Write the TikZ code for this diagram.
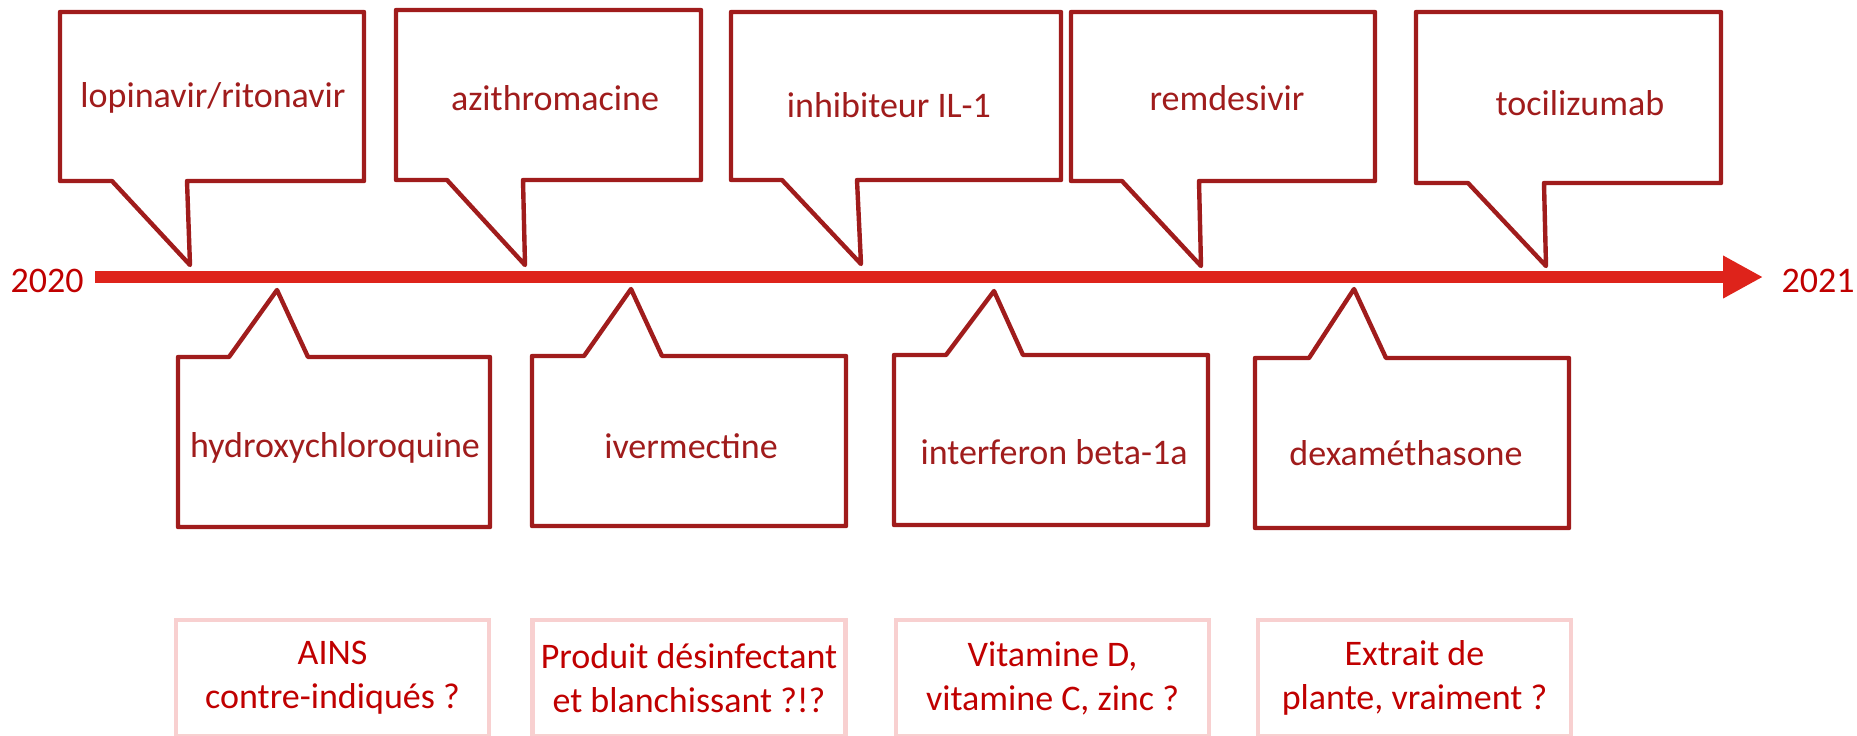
\documentclass[tikz,border=0pt]{standalone}
\usepackage{fontspec}
\setmainfont{Carlito}
\usetikzlibrary{arrows.meta}

\definecolor{bubblered}{RGB}{160,28,28}
\definecolor{axisred}{RGB}{222,35,27}
\definecolor{yearred}{RGB}{192,0,0}
\definecolor{pinkline}{RGB}{248,208,208}

\tikzset{
  bubble/.style={draw=bubblered, line width=2.2pt, line join=round, fill=white},
  drug/.style={text=bubblered, font=\fontsize{18}{22}\selectfont},
  doubt/.style={draw=pinkline, line width=2.2pt, text=yearred, align=center,
    minimum width=156.5pt, minimum height=58pt, inner sep=0pt,
    font=\fontsize{18}{22}\selectfont},
  year/.style={text=yearred, font=\fontsize{18}{22}\selectfont},
}

\begin{document}
\begin{tikzpicture}[x=0.5pt, y=-0.5pt]
    \useasboundingbox (0,0) rectangle (1857,735);
    % time axis
    \node[year] (y2020) at (47,281) {2020};
    \node[year] (y2021) at (1818,281) {2021};
    \coordinate (tstart) at (95,277);
    \coordinate (tend) at (1763,277);
    \draw[axisred, line width=6.3pt, -{Triangle[length=20pt, width=20pt]}] (tstart) -- (tend);
    % callouts above the axis
    \draw[bubble] (60,12) -- (364,12) -- (364,181) -- (187,181) -- (190,265) -- (112,181) -- (60,181) -- cycle;
    \draw[bubble] (396,10) -- (701,10) -- (701,180) -- (523,180) -- (525,265) -- (447,180) -- (396,180) -- cycle;
    \draw[bubble] (731,12) -- (1061,12) -- (1061,180) -- (857,180) -- (861,264) -- (782,180) -- (731,180) -- cycle;
    \draw[bubble] (1071,12) -- (1375,12) -- (1375,181) -- (1199,181) -- (1201,266) -- (1122,181) -- (1071,181) -- cycle;
    \draw[bubble] (1416,12) -- (1721,12) -- (1721,183) -- (1544,183) -- (1546,266) -- (1468,183) -- (1416,183) -- cycle;
    \node[drug] (lopinavir) at (213,98) {lopinavir/ritonavir};
    \node[drug] (azithro) at (555,98) {azithromacine};
    \node[drug] (inhib) at (889,105) {inhibiteur IL-1};
    \node[drug] (remdes) at (1227,98) {remdesivir};
    \node[drug] (tocili) at (1580,103) {tocilizumab};
    % callouts below the axis
    \draw[bubble] (178,357) -- (229,357) -- (277,290) -- (308,357) -- (490,357) -- (490,527) -- (178,527) -- cycle;
    \draw[bubble] (532,356) -- (584,356) -- (631,289) -- (662,356) -- (846,356) -- (846,526) -- (532,526) -- cycle;
    \draw[bubble] (894,355) -- (946,355) -- (994,291) -- (1023,355) -- (1208,355) -- (1208,525) -- (894,525) -- cycle;
    \draw[bubble] (1255,358) -- (1309,358) -- (1354,289) -- (1386,358) -- (1569,358) -- (1569,528) -- (1255,528) -- cycle;
    \node[drug] (hydroxy) at (335,448) {hydroxychloroquine};
    \node[drug] (iverm) at (691,446) {ivermectine};
    \node[drug] (interf) at (1054,452) {interferon beta-1a};
    \node[drug] (dexa) at (1406,453) {dexaméthasone};
    % doubtful remedies
    \node[doubt] (ains) at (332.5,678) {AINS\\contre-indiqués ?};
    \node[doubt] (bleach) at (689,678) {Produit désinfectant\\et blanchissant ?!?};
    \node[doubt] (vitam) at (1052.5,678) {Vitamine D,\\vitamine C, zinc ?};
    \node[doubt] (plant) at (1414.5,678) {Extrait de\\plante, vraiment ?};
\end{tikzpicture}
\end{document}
